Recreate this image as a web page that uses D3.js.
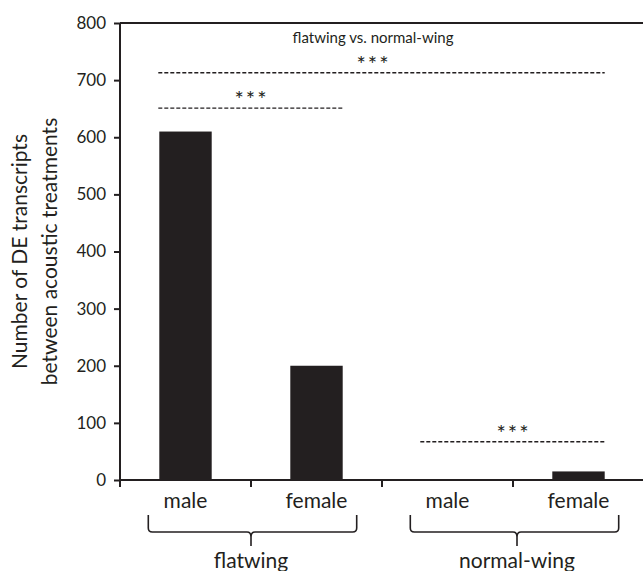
<!DOCTYPE html>
<html>
<head>
<meta charset="utf-8">
<script src="https://cdn.jsdelivr.net/npm/d3@7"></script>
<style>
  body { margin: 0; background: #fff; }
  svg { display: block; }
  text { font-family: Lato, "Noto Sans", sans-serif; fill: #231f20; }
</style>
</head>
<body>
<svg id="chart"></svg>
<script>
// bars, left to right
const keys = ['fw-male', 'fw-female', 'nw-male', 'nw-female'];
const sexLabels = ['male', 'female', 'male', 'female'];
const values = [610, 200, 0, 15];

// groups under the axis
const groups = ['flatwing', 'normal-wing'];
const groupMembers = [[0, 1], [2, 3]];

// significance brackets: first bar, last bar, height
const sigFrom = [0, 0, 2];
const sigTo = [3, 1, 3];
const sigValue = [713, 651, 67];
const sigText = ['***', '***', '***'];
const topNote = 'flatwing vs. normal-wing';

const yTicks = [0, 100, 200, 300, 400, 500, 600, 700, 800];

const width = 643, height = 571;
const margin = { top: 23, left: 120, bottom: 91 };
const ink = '#231f20';

const svg = d3.select('#chart')
  .attr('width', width)
  .attr('height', height);

const x = d3.scaleBand()
  .domain(keys)
  .range([margin.left, margin.left + 524])
  .paddingInner(0.6)
  .paddingOuter(0.3);

const y = d3.scaleLinear()
  .domain([0, 800])
  .range([height - margin.bottom, margin.top]);

// top frame line
svg.append('line')
  .attr('x1', margin.left).attr('x2', width + 5)
  .attr('y1', y(800)).attr('y2', y(800))
  .attr('stroke', ink).attr('stroke-width', 2);

// bars
svg.append('g')
  .selectAll('rect')
  .data(values)
  .join('rect')
  .attr('x', (d, i) => x(keys[i]))
  .attr('width', x.bandwidth())
  .attr('y', (d) => y(d))
  .attr('height', (d) => y(0) - y(d))
  .attr('fill', ink);

// y axis
const yAxis = (g) => g
  .attr('transform', `translate(${margin.left},0)`)
  .call(d3.axisLeft(y).tickValues(yTicks).tickSize(6).tickPadding(8).tickSizeOuter(0))
  .call((g) => g.select('.domain').attr('stroke', ink).attr('stroke-width', 2)
    .attr('d', `M0,${y(800)}V${y(0) + 7}`))
  .call((g) => g.selectAll('.tick line').attr('stroke', ink).attr('stroke-width', 2))
  .call((g) => g.selectAll('.tick text')
    .attr('font-family', 'Lato, sans-serif')
    .attr('font-size', 17)
    .attr('fill', ink));

svg.append('g').call(yAxis);

// x axis baseline + boundary ticks
svg.append('line')
  .attr('x1', margin.left).attr('x2', width + 5)
  .attr('y1', y(0)).attr('y2', y(0))
  .attr('stroke', ink).attr('stroke-width', 2);

const step = x.step();
const bounds = keys.slice(1).map((k) => x(k) - step * x.paddingInner() / 2);
svg.append('g')
  .selectAll('line')
  .data(bounds)
  .join('line')
  .attr('x1', (d) => d).attr('x2', (d) => d)
  .attr('y1', y(0)).attr('y2', y(0) + 7)
  .attr('stroke', ink).attr('stroke-width', 2);

// category labels
svg.append('g')
  .selectAll('text')
  .data(sexLabels)
  .join('text')
  .attr('x', (d, i) => x(keys[i]) + x.bandwidth() / 2)
  .attr('y', y(0) + 28)
  .attr('text-anchor', 'middle')
  .attr('font-size', 21)
  .text((d) => d);

// group braces
const brace = (x0, x1, xm, yt) => {
  const yb = yt + 17;
  return `M${x0},${yt}V${yb - 4}Q${x0},${yb} ${x0 + 4},${yb}H${xm - 4}Q${xm},${yb} ${xm},${yb + 5}`
    + `V${yb + 14}M${xm},${yb + 5}Q${xm},${yb} ${xm + 4},${yb}H${x1 - 4}Q${x1},${yb} ${x1},${yb - 4}V${yt}`;
};

groups.forEach((name, gi) => {
  const [a, b] = groupMembers[gi];
  const left = x(keys[a]) - 11;
  const right = x(keys[b]) + x.bandwidth() + 14;
  const mid = (x(keys[a]) + x(keys[b]) + x.bandwidth()) / 2 + gi * 4;
  svg.append('path')
    .attr('d', brace(left, right, mid, y(0) + 35))
    .attr('fill', 'none')
    .attr('stroke', ink)
    .attr('stroke-width', 1.6);
  svg.append('text')
    .attr('x', mid)
    .attr('y', y(0) + 88)
    .attr('text-anchor', 'middle')
    .attr('font-size', 21)
    .text(name);
});

// significance lines
sigValue.forEach((v, i) => {
  const x0 = x(keys[sigFrom[i]]) - 1;
  const x1 = x(keys[sigTo[i]]) + x.bandwidth();
  svg.append('line')
    .attr('x1', x0).attr('x2', x1)
    .attr('y1', y(v)).attr('y2', y(v))
    .attr('stroke', ink)
    .attr('stroke-width', 1.4)
    .attr('stroke-dasharray', '4,2');
  const cx = i === 0 ? (x0 + x1) / 2 - 9 : (x0 + x1) / 2;
  svg.append('text')
    .attr('x', cx + 1)
    .attr('y', y(v) - 1)
    .attr('text-anchor', 'middle')
    .attr('font-family', '"DejaVu Sans", sans-serif')
    .attr('font-size', 22)
    .attr('letter-spacing', 2)
    .text(sigText[i]);
});

// note above the long line
svg.append('text')
  .attr('x', (x(keys[0]) + x(keys[3]) + x.bandwidth()) / 2 - 9)
  .attr('y', y(800) + 20)
  .attr('text-anchor', 'middle')
  .attr('font-size', 15)
  .text(topNote);

// y title
const yTitle = svg.append('text')
  .attr('transform', `translate(27,${(y(0) + y(800)) / 2}) rotate(-90)`)
  .attr('text-anchor', 'middle')
  .attr('font-size', 21);
yTitle.append('tspan').attr('x', 0).attr('dy', 0).text('Number of DE transcripts');
yTitle.append('tspan').attr('x', 0).attr('dy', 30).text('between acoustic treatments');
</script>
</body>
</html>
